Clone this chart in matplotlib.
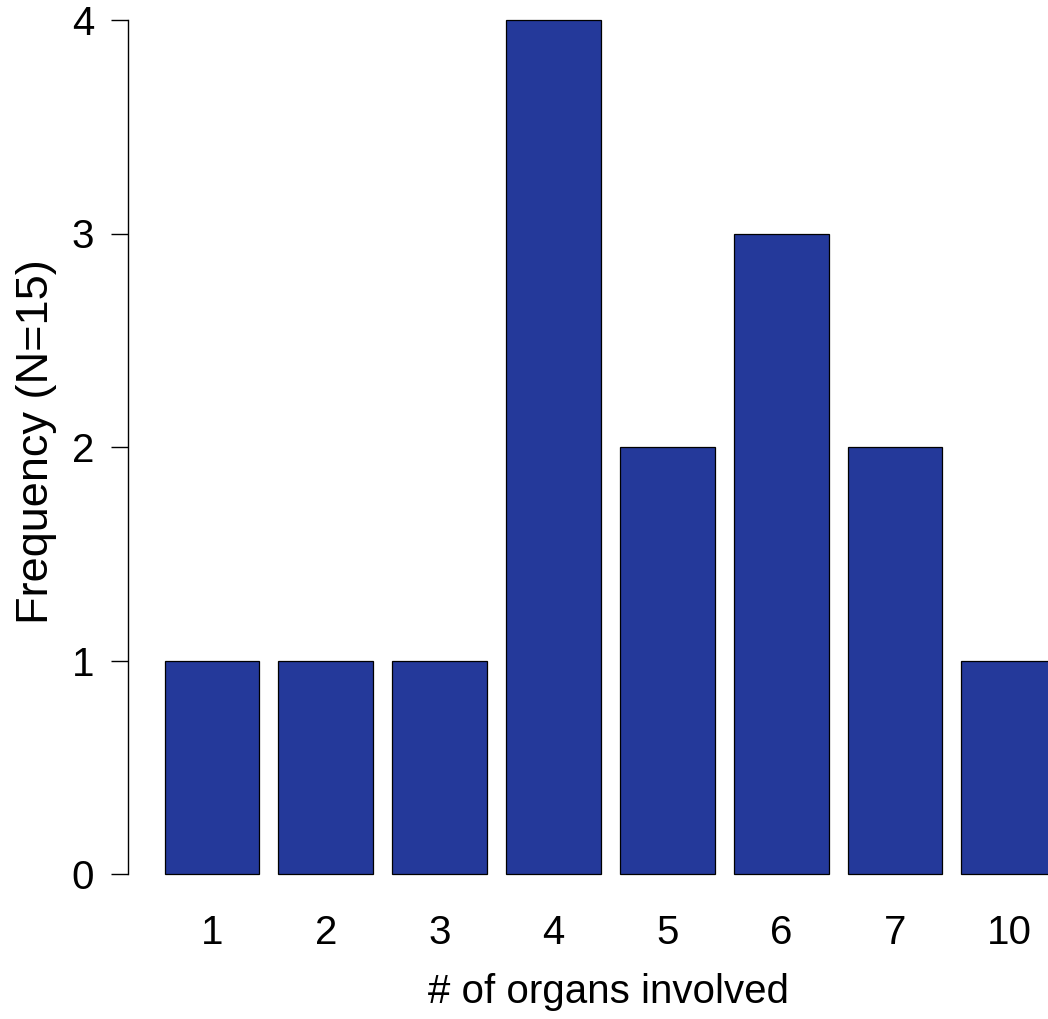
import matplotlib
matplotlib.use("Agg")
import matplotlib.pyplot as plt
import numpy as np

plt.rcParams['font.family'] = ['Liberation Sans', 'DejaVu Sans']

categories = ["1", "2", "3", "4", "5", "6", "7", "10"]
frequency = [1, 1, 1, 4, 2, 3, 2, 1]
y_ticks = [0, 1, 2, 3, 4]

W, H = 1048, 1019
fig = plt.figure(figsize=(W / 100, H / 100), dpi=100)
ax = fig.add_axes([128 / W, (H - 908) / H, (W - 128) / W, 908 / H])

width = 1.0
space = 0.2
x = np.array([space + (width + space) * i + width / 2 for i in range(len(categories))])
ax.bar(x, frequency, width=width, color="#24399a", edgecolor="black", linewidth=0.9)

ax.set_xlim(-0.185, (W - 145.3) / 94.9)
ax.set_ylim(-34 / 213.5, 4 + 20 / 213.5)

for s in ["top", "right", "bottom"]:
    ax.spines[s].set_visible(False)
ax.spines["left"].set_bounds(0, 4)
ax.spines["left"].set_linewidth(1.0)

ax.set_yticks(y_ticks)
ax.set_yticklabels([str(v) for v in y_ticks])
ax.tick_params(axis="y", length=12.5, width=1.0, pad=12, labelsize=29)
ax.set_xticks(x)
ax.set_xticklabels(categories)
ax.tick_params(axis="x", length=0, pad=4, labelsize=29)

ax.set_xlabel("# of organs involved", fontsize=29)
ax.xaxis.set_label_coords((608 - 128) / 920, (908 - 992) / 908)
ax.xaxis.label.set_va("center")
ax.set_ylabel("Frequency (N=15)", fontsize=32.5)
ax.yaxis.set_label_coords((37 - 128) / 920, (908 - 442) / 908)
ax.yaxis.label.set_va("center")

fig.savefig("out.png", dpi=100)
